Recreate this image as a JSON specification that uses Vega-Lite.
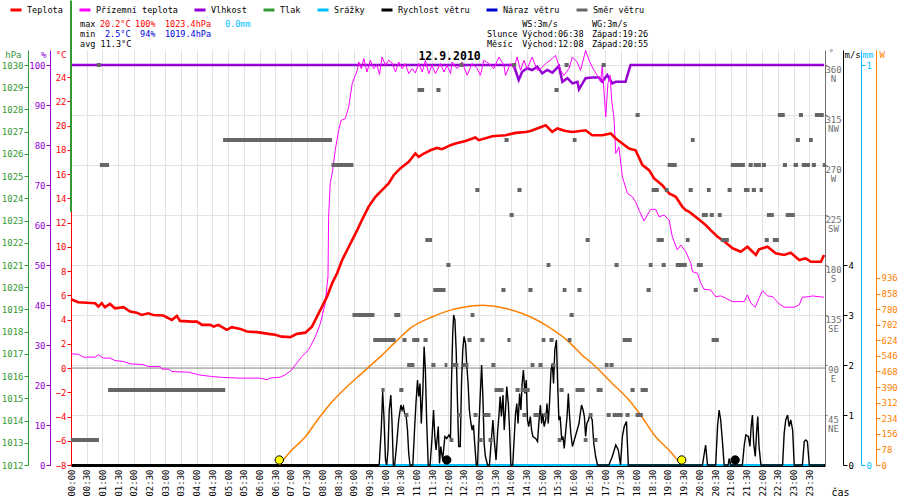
{
"$schema":"https://vega.github.io/schema/vega-lite/v6.json",
"width":754,"height":415,"autosize":"none",
"padding":{"left":71,"top":50,"right":75,"bottom":35},
"background":"white",
"config":{"view":{"stroke":null},"font":"DejaVu Sans Mono","axis":{"labelFont":"DejaVu Sans Mono","titleFont":"DejaVu Sans Mono","labelFontSize":9,"titleFontSize":9,"titleFontWeight":"normal","labelOverlap":false,"labelFlush":false}},
"datasets":{
"temp":[{"t":0,"T":5.67},{"t":0.23,"T":5.43},{"t":0.77,"T":5.35},{"t":0.87,"T":5.07},{"t":0.98,"T":5.35},{"t":1.08,"T":5.02},{"t":1.24,"T":5.29},{"t":1.4,"T":4.93},{"t":1.67,"T":5.02},{"t":1.88,"T":4.66},{"t":2.09,"T":4.57},{"t":2.25,"T":4.38},{"t":2.46,"T":4.52},{"t":2.62,"T":4.38},{"t":2.94,"T":4.33},{"t":3.21,"T":3.97},{"t":3.37,"T":4.3},{"t":3.47,"T":3.89},{"t":3.85,"T":3.83},{"t":4.01,"T":3.83},{"t":4.17,"T":3.56},{"t":4.43,"T":3.56},{"t":4.54,"T":3.42},{"t":4.69,"T":3.56},{"t":4.96,"T":3.15},{"t":5.12,"T":3.37},{"t":5.39,"T":3.23},{"t":5.6,"T":3.01},{"t":5.92,"T":2.96},{"t":6.29,"T":2.82},{"t":6.5,"T":2.74},{"t":6.71,"T":2.59},{"t":6.98,"T":2.55},{"t":7.19,"T":2.82},{"t":7.46,"T":2.92},{"t":7.67,"T":3.42},{"t":7.83,"T":4.24},{"t":7.99,"T":5.07},{"t":8.15,"T":5.89},{"t":8.31,"T":6.99},{"t":8.47,"T":7.82},{"t":8.63,"T":8.91},{"t":8.79,"T":9.74},{"t":8.95,"T":10.56},{"t":9.11,"T":11.38},{"t":9.26,"T":12.21},{"t":9.47,"T":13.3},{"t":9.69,"T":14.13},{"t":9.9,"T":14.68},{"t":10.11,"T":15.23},{"t":10.27,"T":15.91},{"t":10.48,"T":16.47},{"t":10.75,"T":17.01},{"t":10.96,"T":17.7},{"t":11.07,"T":17.42},{"t":11.23,"T":17.7},{"t":11.44,"T":17.97},{"t":11.65,"T":18.16},{"t":11.81,"T":18.06},{"t":12.08,"T":18.39},{"t":12.24,"T":18.53},{"t":12.56,"T":18.74},{"t":12.87,"T":19.02},{"t":12.98,"T":18.8},{"t":13.41,"T":19.13},{"t":13.83,"T":19.21},{"t":14.15,"T":19.4},{"t":14.47,"T":19.48},{"t":14.63,"T":19.56},{"t":15.11,"T":20.03},{"t":15.32,"T":19.48},{"t":15.48,"T":19.76},{"t":15.74,"T":19.56},{"t":15.96,"T":19.48},{"t":16.38,"T":19.62},{"t":16.59,"T":19.21},{"t":16.91,"T":19.21},{"t":17.18,"T":19.35},{"t":17.34,"T":18.94},{"t":17.55,"T":18.53},{"t":17.76,"T":18.11},{"t":17.97,"T":17.97},{"t":18.19,"T":16.74},{"t":18.4,"T":16.33},{"t":18.56,"T":15.64},{"t":18.82,"T":15.09},{"t":19.04,"T":14.41},{"t":19.25,"T":14.13},{"t":19.46,"T":13.3},{"t":19.57,"T":13.03},{"t":19.67,"T":12.9},{"t":19.94,"T":12.35},{"t":20.2,"T":11.8},{"t":20.36,"T":11.38},{"t":20.58,"T":10.83},{"t":20.74,"T":10.56},{"t":21.06,"T":9.88},{"t":21.32,"T":9.6},{"t":21.53,"T":10.01},{"t":21.8,"T":9.33},{"t":21.9,"T":9.79},{"t":22.17,"T":10.01},{"t":22.43,"T":9.46},{"t":22.7,"T":9.33},{"t":22.91,"T":9.52},{"t":23.18,"T":8.91},{"t":23.39,"T":9.05},{"t":23.55,"T":8.77},{"t":23.87,"T":8.77},{"t":23.97,"T":9.33}],
"ground":[{"t":0,"G":1.17},{"t":0.23,"G":1.14},{"t":0.39,"G":0.9},{"t":0.77,"G":0.9},{"t":0.87,"G":1.09},{"t":1.03,"G":0.82},{"t":1.24,"G":0.82},{"t":1.4,"G":0.62},{"t":1.67,"G":0.54},{"t":1.88,"G":0.35},{"t":2.3,"G":0.29},{"t":2.46,"G":0.12},{"t":2.84,"G":0.12},{"t":2.89,"G":-0.09},{"t":3.1,"G":-0.09},{"t":3.21,"G":-0.29},{"t":3.74,"G":-0.34},{"t":4.06,"G":-0.56},{"t":4.48,"G":-0.7},{"t":4.85,"G":-0.78},{"t":5.33,"G":-0.83},{"t":6.02,"G":-0.83},{"t":6.24,"G":-0.97},{"t":6.34,"G":-0.83},{"t":6.66,"G":-0.75},{"t":6.82,"G":-0.56},{"t":7.03,"G":-0.15},{"t":7.14,"G":0.26},{"t":7.35,"G":0.95},{"t":7.56,"G":1.5},{"t":7.78,"G":2.59},{"t":7.94,"G":3.7},{"t":8.09,"G":5.35},{"t":8.18,"G":7.54},{"t":8.2,"G":12.48},{"t":8.25,"G":15.23},{"t":8.33,"G":16.33},{"t":8.41,"G":17.97},{"t":8.52,"G":19.62},{"t":8.6,"G":20.44},{"t":8.73,"G":20.58},{"t":8.84,"G":21.54},{"t":8.95,"G":23.47},{"t":9.11,"G":24.56},{"t":9.16,"G":25.25},{"t":9.24,"G":24.7},{"t":9.32,"G":25.53},{"t":9.42,"G":24.42},{"t":9.53,"G":25.39},{"t":9.64,"G":24.7},{"t":9.74,"G":24.98},{"t":9.82,"G":24.23},{"t":9.9,"G":25.66},{"t":10.01,"G":24.98},{"t":10.11,"G":25.39},{"t":10.22,"G":25.17},{"t":10.33,"G":24.42},{"t":10.43,"G":25.25},{"t":10.54,"G":24.7},{"t":10.64,"G":25.12},{"t":10.75,"G":24.29},{"t":10.86,"G":24.7},{"t":10.96,"G":24.34},{"t":11.07,"G":25.12},{"t":11.18,"G":24.42},{"t":11.28,"G":25.39},{"t":11.39,"G":24.29},{"t":11.49,"G":24.98},{"t":11.6,"G":24.29},{"t":11.76,"G":25.12},{"t":11.87,"G":24.42},{"t":11.97,"G":24.98},{"t":12.08,"G":24.29},{"t":12.13,"G":25.25},{"t":12.29,"G":24.7},{"t":12.45,"G":25.25},{"t":12.61,"G":24.15},{"t":12.77,"G":25.12},{"t":12.93,"G":24.7},{"t":13.03,"G":24.15},{"t":13.14,"G":25.39},{"t":13.3,"G":25.12},{"t":13.46,"G":24.7},{"t":13.62,"G":25.66},{"t":13.78,"G":24.98},{"t":13.83,"G":24.15},{"t":13.99,"G":25.12},{"t":14.1,"G":24.7},{"t":14.2,"G":25.66},{"t":14.31,"G":24.56},{"t":14.42,"G":25.39},{"t":14.52,"G":24.7},{"t":14.68,"G":25.66},{"t":14.84,"G":24.56},{"t":14.95,"G":24.7},{"t":15.11,"G":25.12},{"t":15.32,"G":25.53},{"t":15.42,"G":25.8},{"t":15.58,"G":24.56},{"t":15.69,"G":24.15},{"t":15.85,"G":24.7},{"t":15.96,"G":25.66},{"t":16.11,"G":25.25},{"t":16.22,"G":24.56},{"t":16.38,"G":26.2},{"t":16.49,"G":25.39},{"t":16.59,"G":24.84},{"t":16.75,"G":24.15},{"t":16.86,"G":23.6},{"t":16.91,"G":24.98},{"t":17.02,"G":20.72},{"t":17.09,"G":23.47},{"t":17.16,"G":24.15},{"t":17.21,"G":22.09},{"t":17.28,"G":20.72},{"t":17.34,"G":17.7},{"t":17.44,"G":18.25},{"t":17.55,"G":15.78},{"t":17.71,"G":14.41},{"t":17.87,"G":14.13},{"t":17.97,"G":13.72},{"t":18.08,"G":13.03},{"t":18.24,"G":12.15},{"t":18.45,"G":13.09},{"t":18.61,"G":13.09},{"t":18.72,"G":12.48},{"t":18.88,"G":12.62},{"t":19.04,"G":12.21},{"t":19.14,"G":10.83},{"t":19.3,"G":9.74},{"t":19.41,"G":10.15},{"t":19.57,"G":9.6},{"t":19.73,"G":8.64},{"t":19.78,"G":7.95},{"t":19.94,"G":7.82},{"t":20.05,"G":6.99},{"t":20.15,"G":6.5},{"t":20.36,"G":6.44},{"t":20.52,"G":5.89},{"t":20.68,"G":5.95},{"t":20.84,"G":5.76},{"t":21.05,"G":5.48},{"t":21.43,"G":5.48},{"t":21.53,"G":6.03},{"t":21.64,"G":5.35},{"t":21.78,"G":5.02},{"t":21.9,"G":5.76},{"t":22.01,"G":6.38},{"t":22.17,"G":5.95},{"t":22.33,"G":5.89},{"t":22.54,"G":5.29},{"t":22.7,"G":5.02},{"t":23.02,"G":5.02},{"t":23.18,"G":5.21},{"t":23.28,"G":5.84},{"t":23.5,"G":5.89},{"t":23.6,"G":5.95},{"t":23.97,"G":5.84}],
"hum":[{"t":0,"H":100},{"t":14.09,"H":100},{"t":14.25,"H":96.25},{"t":14.36,"H":98.3},{"t":14.52,"H":99.2},{"t":14.68,"H":98.75},{"t":14.84,"H":99.6},{"t":15.0,"H":97.9},{"t":15.16,"H":98.75},{"t":15.32,"H":98.1},{"t":15.53,"H":99.75},{"t":15.64,"H":95.8},{"t":15.8,"H":96.7},{"t":15.96,"H":95.4},{"t":16.12,"H":95.8},{"t":16.17,"H":93.9},{"t":16.38,"H":96.7},{"t":16.59,"H":96.9},{"t":16.8,"H":96.9},{"t":16.91,"H":95.8},{"t":17.07,"H":97.5},{"t":17.23,"H":95.4},{"t":17.34,"H":95.8},{"t":17.65,"H":95.8},{"t":17.81,"H":100},{"t":23.97,"H":100}],
"wind":[{"t":9.81,"v":0},{"t":9.88,"v":0.77},{"t":9.92,"v":1.47},{"t":9.96,"v":0.97},{"t":10.01,"v":0.1},{"t":10.05,"v":0},{"t":10.09,"v":0.3},{"t":10.13,"v":1.1},{"t":10.18,"v":1.4},{"t":10.22,"v":0.83},{"t":10.26,"v":0},{"t":10.3,"v":0},{"t":10.35,"v":0.3},{"t":10.43,"v":0.9},{"t":10.5,"v":1.2},{"t":10.54,"v":1.1},{"t":10.58,"v":1.17},{"t":10.62,"v":1.03},{"t":10.67,"v":0.97},{"t":10.71,"v":0.7},{"t":10.75,"v":0.23},{"t":10.79,"v":0},{"t":10.88,"v":0},{"t":10.94,"v":0.77},{"t":10.98,"v":1.23},{"t":11.03,"v":1.7},{"t":11.07,"v":1.37},{"t":11.11,"v":1.63},{"t":11.15,"v":0.83},{"t":11.2,"v":1.5},{"t":11.24,"v":2.37},{"t":11.28,"v":1.9},{"t":11.32,"v":0.9},{"t":11.37,"v":0},{"t":11.43,"v":0},{"t":11.49,"v":0.53},{"t":11.54,"v":1.1},{"t":11.58,"v":0.57},{"t":11.62,"v":0.3},{"t":11.69,"v":0.77},{"t":11.73,"v":0.03},{"t":11.77,"v":0.37},{"t":11.83,"v":0.1},{"t":11.9,"v":0.57},{"t":11.96,"v":0.53},{"t":12.03,"v":0.6},{"t":12.08,"v":0.53},{"t":12.11,"v":1.63},{"t":12.15,"v":2.63},{"t":12.18,"v":3.0},{"t":12.22,"v":2.9},{"t":12.26,"v":2.3},{"t":12.3,"v":1.3},{"t":12.34,"v":0.37},{"t":12.39,"v":0.37},{"t":12.43,"v":1.63},{"t":12.47,"v":2.3},{"t":12.51,"v":2.57},{"t":12.56,"v":2.43},{"t":12.6,"v":1.97},{"t":12.64,"v":1.63},{"t":12.68,"v":1.1},{"t":12.73,"v":0.83},{"t":12.77,"v":0.7},{"t":12.81,"v":0.8},{"t":12.85,"v":0.43},{"t":12.9,"v":0},{"t":12.94,"v":0},{"t":12.98,"v":0.7},{"t":13.02,"v":1.3},{"t":13.07,"v":2.0},{"t":13.11,"v":1.37},{"t":13.15,"v":0.43},{"t":13.19,"v":0.17},{"t":13.26,"v":0},{"t":13.32,"v":0},{"t":13.38,"v":0.5},{"t":13.43,"v":0.9},{"t":13.47,"v":0.5},{"t":13.53,"v":0.1},{"t":13.58,"v":0.67},{"t":13.62,"v":0.97},{"t":13.66,"v":1.37},{"t":13.7,"v":0.97},{"t":13.75,"v":1.4},{"t":13.79,"v":0.7},{"t":13.83,"v":1.1},{"t":13.87,"v":1.57},{"t":13.92,"v":1.23},{"t":13.96,"v":0.7},{"t":14.0,"v":0},{"t":14.06,"v":0},{"t":14.11,"v":0.57},{"t":14.15,"v":1.03},{"t":14.19,"v":1.23},{"t":14.23,"v":0.83},{"t":14.28,"v":1.43},{"t":14.32,"v":1.1},{"t":14.36,"v":1.63},{"t":14.4,"v":1.9},{"t":14.45,"v":1.43},{"t":14.49,"v":1.7},{"t":14.53,"v":0.9},{"t":14.57,"v":0.77},{"t":14.62,"v":0.97},{"t":14.66,"v":0.7},{"t":14.7,"v":0.57},{"t":14.79,"v":0.53},{"t":14.85,"v":0.47},{"t":14.89,"v":0.83},{"t":14.94,"v":1.2},{"t":14.98,"v":0.83},{"t":15.02,"v":1.03},{"t":15.06,"v":0.77},{"t":15.11,"v":0.9},{"t":15.15,"v":1.23},{"t":15.19,"v":0.83},{"t":15.23,"v":1.23},{"t":15.28,"v":1.9},{"t":15.32,"v":2.03},{"t":15.36,"v":1.63},{"t":15.4,"v":2.3},{"t":15.45,"v":2.5},{"t":15.49,"v":1.63},{"t":15.53,"v":0.9},{"t":15.57,"v":0.97},{"t":15.62,"v":0.5},{"t":15.66,"v":0.57},{"t":15.7,"v":0.33},{"t":15.74,"v":0.63},{"t":15.79,"v":0.97},{"t":15.83,"v":1.43},{"t":15.87,"v":0.97},{"t":15.91,"v":0.63},{"t":15.96,"v":0.37},{"t":16.02,"v":0.5},{"t":16.08,"v":0.63},{"t":16.17,"v":0.83},{"t":16.21,"v":1.03},{"t":16.25,"v":1.2},{"t":16.3,"v":1.1},{"t":16.34,"v":0.97},{"t":16.38,"v":0.57},{"t":16.42,"v":0.83},{"t":16.47,"v":0.9},{"t":16.51,"v":1.0},{"t":16.55,"v":0.97},{"t":16.59,"v":0.9},{"t":16.64,"v":0.43},{"t":16.7,"v":0.17},{"t":16.76,"v":0},{"t":17.12,"v":0},{"t":17.23,"v":0.17},{"t":17.34,"v":0.4},{"t":17.42,"v":0.3},{"t":17.49,"v":0},{"t":17.55,"v":0.57},{"t":17.61,"v":0.77},{"t":17.68,"v":0.87},{"t":17.74,"v":0},{"t":20.1,"v":0},{"t":20.15,"v":0.2},{"t":20.2,"v":0.4},{"t":20.26,"v":0},{"t":20.52,"v":0},{"t":20.58,"v":0.77},{"t":20.63,"v":1.1},{"t":20.68,"v":0.9},{"t":20.74,"v":0.43},{"t":20.79,"v":0},{"t":20.92,"v":0},{"t":20.95,"v":0.13},{"t":21.0,"v":0},{"t":21.37,"v":0},{"t":21.43,"v":0.4},{"t":21.48,"v":0.6},{"t":21.56,"v":0.57},{"t":21.61,"v":0.37},{"t":21.65,"v":0.77},{"t":21.69,"v":1.0},{"t":21.73,"v":0.43},{"t":21.78,"v":0.17},{"t":21.82,"v":0.63},{"t":21.86,"v":0.97},{"t":21.9,"v":0.37},{"t":21.96,"v":0},{"t":22.65,"v":0},{"t":22.7,"v":0.63},{"t":22.75,"v":0.9},{"t":22.81,"v":1.0},{"t":22.86,"v":0.77},{"t":22.91,"v":0.9},{"t":22.97,"v":0.7},{"t":23.02,"v":0},{"t":23.28,"v":0},{"t":23.34,"v":0.47},{"t":23.39,"v":0.5},{"t":23.44,"v":0.47},{"t":23.5,"v":0},{"t":23.96,"v":0}],
"dir":[{"t":0,"t2":0.89,"d":22.5},{"t":0.82,"t2":0.95,"d":360},{"t":0.92,"t2":1.21,"d":270},{"t":1.18,"t2":4.91,"d":67.5},{"t":4.84,"t2":8.31,"d":292.5},{"t":8.29,"t2":8.99,"d":270},{"t":8.96,"t2":9.66,"d":135},{"t":9.62,"t2":10.33,"d":112.5},{"t":9.88,"t2":9.98,"d":67.5},{"t":10.29,"t2":10.48,"d":135},{"t":10.45,"t2":10.58,"d":67.5},{"t":10.55,"t2":10.68,"d":112.5},{"t":10.61,"t2":10.74,"d":45},{"t":10.7,"t2":10.93,"d":90},{"t":10.86,"t2":11.09,"d":112.5},{"t":11.03,"t2":11.24,"d":337.5},{"t":11.22,"t2":11.35,"d":112.5},{"t":11.28,"t2":11.49,"d":202.5},{"t":11.47,"t2":11.6,"d":90},{"t":11.53,"t2":11.92,"d":157.5},{"t":11.63,"t2":11.76,"d":337.5},{"t":11.89,"t2":11.98,"d":90},{"t":11.95,"t2":12.08,"d":180},{"t":12.05,"t2":12.17,"d":22.5},{"t":12.14,"t2":12.33,"d":90},{"t":12.3,"t2":12.43,"d":45},{"t":12.37,"t2":12.49,"d":360},{"t":12.46,"t2":12.65,"d":90},{"t":12.62,"t2":12.75,"d":112.5},{"t":12.72,"t2":12.84,"d":135},{"t":12.81,"t2":12.94,"d":45},{"t":12.87,"t2":13.0,"d":247.5},{"t":12.97,"t2":13.1,"d":22.5},{"t":13.03,"t2":13.16,"d":112.5},{"t":13.13,"t2":13.35,"d":45},{"t":13.29,"t2":13.42,"d":22.5},{"t":13.38,"t2":13.51,"d":90},{"t":13.48,"t2":13.77,"d":67.5},{"t":13.7,"t2":13.83,"d":157.5},{"t":13.8,"t2":13.93,"d":292.5},{"t":13.89,"t2":13.99,"d":112.5},{"t":13.96,"t2":14.09,"d":225},{"t":14.04,"t2":14.17,"d":360},{"t":14.15,"t2":14.28,"d":67.5},{"t":14.21,"t2":14.34,"d":247.5},{"t":14.31,"t2":14.6,"d":67.5},{"t":14.37,"t2":14.5,"d":45},{"t":14.56,"t2":14.69,"d":157.5},{"t":14.63,"t2":14.75,"d":90},{"t":14.72,"t2":14.91,"d":45},{"t":14.88,"t2":15.01,"d":90},{"t":14.98,"t2":15.1,"d":112.5},{"t":15.04,"t2":15.17,"d":45},{"t":15.14,"t2":15.26,"d":180},{"t":15.23,"t2":15.36,"d":112.5},{"t":15.3,"t2":15.42,"d":90},{"t":15.39,"t2":15.52,"d":337.5},{"t":15.49,"t2":15.61,"d":22.5},{"t":15.55,"t2":15.68,"d":67.5},{"t":15.65,"t2":15.77,"d":157.5},{"t":15.71,"t2":15.84,"d":360},{"t":15.81,"t2":15.93,"d":112.5},{"t":15.87,"t2":16.0,"d":135},{"t":15.97,"t2":16.09,"d":292.5},{"t":16.06,"t2":16.35,"d":67.5},{"t":16.12,"t2":16.25,"d":157.5},{"t":16.32,"t2":16.44,"d":22.5},{"t":16.38,"t2":16.51,"d":202.5},{"t":16.48,"t2":16.6,"d":45},{"t":16.63,"t2":16.76,"d":22.5},{"t":16.73,"t2":16.92,"d":67.5},{"t":16.89,"t2":17.02,"d":360},{"t":16.99,"t2":17.11,"d":90},{"t":17.05,"t2":17.18,"d":45},{"t":17.14,"t2":17.27,"d":90},{"t":17.24,"t2":17.56,"d":45},{"t":17.3,"t2":17.43,"d":180},{"t":17.56,"t2":17.85,"d":112.5},{"t":17.65,"t2":17.78,"d":45},{"t":17.81,"t2":17.94,"d":67.5},{"t":17.97,"t2":18.2,"d":45},{"t":17.97,"t2":18.1,"d":315},{"t":18.13,"t2":18.36,"d":67.5},{"t":18.32,"t2":18.45,"d":157.5},{"t":18.39,"t2":18.51,"d":180},{"t":18.48,"t2":18.71,"d":247.5},{"t":18.64,"t2":18.87,"d":202.5},{"t":18.8,"t2":18.93,"d":180},{"t":18.9,"t2":19.02,"d":247.5},{"t":18.99,"t2":19.28,"d":270},{"t":19.25,"t2":19.6,"d":180},{"t":19.57,"t2":19.69,"d":202.5},{"t":19.66,"t2":19.79,"d":247.5},{"t":19.73,"t2":19.85,"d":292.5},{"t":19.82,"t2":19.95,"d":157.5},{"t":19.92,"t2":20.11,"d":180},{"t":20.08,"t2":20.27,"d":225},{"t":20.24,"t2":20.36,"d":247.5},{"t":20.33,"t2":20.46,"d":225},{"t":20.39,"t2":20.62,"d":112.5},{"t":20.59,"t2":20.71,"d":225},{"t":20.68,"t2":20.94,"d":202.5},{"t":20.9,"t2":21.03,"d":247.5},{"t":21.0,"t2":21.45,"d":270},{"t":21.42,"t2":21.6,"d":247.5},{"t":21.57,"t2":21.7,"d":270},{"t":21.67,"t2":21.8,"d":247.5},{"t":21.73,"t2":21.96,"d":270},{"t":21.92,"t2":22.02,"d":247.5},{"t":21.99,"t2":22.12,"d":270},{"t":22.08,"t2":22.21,"d":202.5},{"t":22.15,"t2":22.37,"d":225},{"t":22.34,"t2":22.53,"d":202.5},{"t":22.5,"t2":22.72,"d":315},{"t":22.66,"t2":22.79,"d":270},{"t":22.75,"t2":23.04,"d":225},{"t":23.0,"t2":23.14,"d":270},{"t":23.07,"t2":23.2,"d":292.5},{"t":23.17,"t2":23.3,"d":315},{"t":23.26,"t2":23.52,"d":270},{"t":23.49,"t2":23.61,"d":292.5},{"t":23.58,"t2":23.71,"d":270},{"t":23.68,"t2":23.96,"d":315},{"t":23.93,"t2":24.0,"d":270}],
"sun":[{"t":6.63,"W":0},{"t":7.0,"W":70},{"t":7.46,"W":141},{"t":7.88,"W":233},{"t":8.31,"W":316},{"t":9.37,"W":475},{"t":9.9,"W":550},{"t":10.33,"W":616},{"t":10.86,"W":691},{"t":11.49,"W":741},{"t":12.08,"W":775},{"t":12.45,"W":788},{"t":13.09,"W":800},{"t":13.62,"W":791},{"t":14.36,"W":758},{"t":14.73,"W":733},{"t":15.11,"W":700},{"t":15.85,"W":616},{"t":16.27,"W":550},{"t":16.59,"W":508},{"t":17.23,"W":408},{"t":17.76,"W":325},{"t":18.13,"W":250},{"t":18.61,"W":141},{"t":19.03,"W":75},{"t":19.43,"W":0}],
"header":[{"t":0.29,"r":1,"s":"max","c":"#000000"},{"t":0.92,"r":1,"s":"20.2°C","c":"#ff0000"},{"t":2.04,"r":1,"s":"100%","c":"#ff0000"},{"t":2.99,"r":1,"s":"1023.4hPa","c":"#ff0000"},{"t":4.9,"r":1,"s":"0.0mm","c":"#00bfff"},{"t":14.36,"r":1,"s":"WS:3m/s","c":"#000000"},{"t":16.58,"r":1,"s":"WG:3m/s","c":"#000000"},{"t":0.29,"r":2,"s":"min","c":"#000000"},{"t":1.08,"r":2,"s":"2.5°C","c":"#0000dd"},{"t":2.2,"r":2,"s":"94%","c":"#0000dd"},{"t":2.99,"r":2,"s":"1019.4hPa","c":"#0000dd"},{"t":13.24,"r":2,"s":"Slunce","c":"#000000"},{"t":14.36,"r":2,"s":"Východ:06:38","c":"#000000"},{"t":16.58,"r":2,"s":"Západ:19:26","c":"#000000"},{"t":0.29,"r":3,"s":"avg 11.3°C","c":"#000000"},{"t":13.24,"r":3,"s":"Měsíc","c":"#000000"},{"t":14.36,"r":3,"s":"Východ:12:08","c":"#000000"},{"t":16.58,"r":3,"s":"Západ:20:55","c":"#000000"}]
},
"encoding":{"x":{"field":"t","type":"quantitative","scale":{"domain":[0,24],"nice":false,"zero":false},
 "axis":{"values":[0,0.5,1,1.5,2,2.5,3,3.5,4,4.5,5,5.5,6,6.5,7,7.5,8,8.5,9,9.5,10,10.5,11,11.5,12,12.5,13,13.5,14,14.5,15,15.5,16,16.5,17,17.5,18,18.5,19,19.5,20,20.5,21,21.5,22,22.5,23,23.5],
 "labelExpr":"(datum.value < 10 ? '0' : '') + floor(datum.value) + ':' + (datum.value % 1 ? '30' : '00')",
 "labelAngle":-90,"labelAlign":"right","labelBaseline":"middle","labelPadding":4,"ticks":false,"grid":true,"gridColor":"#e2e2e2","domainColor":"#000000","domainWidth":3,"labelColor":"#000000",
 "title":"čas","titleX":769,"titleY":27,"titleAngle":0,"titleAlign":"center","titleBaseline":"middle","titleFontSize":10,"titleColor":"#000000"}}},
"layer":[
{"data":{"values":[{"t":0,"t2":24}]},"mark":{"type":"rule","color":"#808080","strokeWidth":1},
 "encoding":{"x2":{"field":"t2"},"y":{"datum":0,"type":"quantitative","scale":{"domain":[-8,26.24],"nice":false,"zero":false},"axis":null}}},
{"data":{"name":"sun"},"mark":{"type":"line","color":"#ff8000","strokeWidth":1.5,"interpolate":"monotone"},
 "encoding":{"y":{"field":"W","type":"quantitative","scale":{"domain":[0,2077],"nice":false,"zero":false},
  "axis":{"orient":"right","offset":51,"values":[0,78,156,234,312,390,468,546,624,702,780,858,936],"format":"d","domainColor":"#ff8000","tickColor":"#ff8000","labelColor":"#ff8000","tickSize":4,"labelPadding":1,"grid":false,"title":"W","titleColor":"#ff8000","titleAngle":0,"titleX":3,"titleY":4,"titleAlign":"left","titleBaseline":"middle"}}}},
{"data":{"values":[{"t":9.81,"R":0},{"t":23.96,"R":0}]},"mark":{"type":"line","strokeWidth":2},
 "encoding":{"y":{"field":"R","type":"quantitative","scale":{"domain":[0,1.0375],"nice":false,"zero":false},
  "axis":{"orient":"right","offset":36,"values":[0,1],"format":"d","domainColor":"#00bfff","tickColor":"#00bfff","labelColor":"#00bfff","tickSize":4,"labelPadding":1,"grid":false,"title":"mm","titleColor":"#00bfff","titleAngle":0,"titleX":1,"titleY":4,"titleAlign":"left","titleBaseline":"middle"}},
  "color":{"datum":"Srážky"}}},
{"data":{"name":"wind"},"mark":{"type":"line","strokeWidth":1.4},
 "encoding":{"y":{"field":"v","type":"quantitative","scale":{"domain":[0,8.3],"nice":false,"zero":false},
  "axis":{"orient":"right","offset":18,"values":[0,1,2,3,4],"format":"d","domainColor":"#000000","tickColor":"#000000","labelColor":"#000000","tickSize":4,"labelPadding":1,"grid":false,"title":"m/s","titleColor":"#000000","titleAngle":0,"titleX":1,"titleY":4,"titleAlign":"left","titleBaseline":"middle"}},
  "color":{"datum":"Rychlost větru"}}},
{"data":{"name":"hum"},"mark":{"type":"line","strokeWidth":2.5},
 "encoding":{"y":{"field":"H","type":"quantitative","scale":{"domain":[0,103.75],"nice":false,"zero":false},
  "axis":{"orient":"left","offset":21,"values":[0,10,20,30,40,50,60,70,80,90,100],"format":"d","domainColor":"#9400d3","tickColor":"#9400d3","labelColor":"#9400d3","tickSize":4,"labelPadding":1,"grid":false,"title":"%","titleColor":"#9400d3","titleAngle":0,"titleX":-4,"titleY":4,"titleAlign":"right","titleBaseline":"middle"}},
  "color":{"datum":"Vlhkost"}}},
{"data":{"name":"ground"},"mark":{"type":"line","strokeWidth":1},
 "encoding":{"y":{"field":"G","type":"quantitative","scale":{"domain":[-8,26.24],"nice":false,"zero":false},"axis":null},
  "color":{"datum":"Přízemní teplota"}}},
{"data":{"name":"temp"},"mark":{"type":"line","strokeWidth":2.6},
 "encoding":{"y":{"field":"T","type":"quantitative","scale":{"domain":[-8,26.24],"nice":false,"zero":false},
  "axis":{"orient":"left","offset":0,"values":[-8,-6,-4,-2,0,2,4,6,8,10,12,14,16,18,20,22,24],"format":"d","domainColor":"#ff0000","tickColor":"#ff0000","labelColor":"#ff0000","tickSize":4,"labelPadding":1,"grid":false,"title":"°C","titleColor":"#ff0000","titleAngle":0,"titleX":-5,"titleY":4,"titleAlign":"right","titleBaseline":"middle"}},
  "color":{"datum":"Teplota","type":"nominal","scale":{"domain":["Teplota","Přízemní teplota","Vlhkost","Tlak","Srážky","Rychlost větru","Náraz větru","Směr větru"],"range":["#ff0000","#ff00ff","#9400d3","#339933","#00bfff","#000000","#0000cc","#666666"]},
   "legend":{"orient":"none","legendX":-62,"legendY":-47,"direction":"horizontal","title":null,"symbolType":"stroke","symbolStrokeWidth":3,"symbolSize":121,"labelFont":"DejaVu Sans Mono","labelFontSize":8.5,"labelColor":"#000000","columnPadding":10,"labelOffset":4}}}},
{"data":{"values":[{"t":0,"p":1023.4,"p2":1032.9}]},"mark":{"type":"rule","strokeWidth":2},
 "encoding":{"y":{"field":"p","type":"quantitative","scale":{"domain":[1012,1030.675],"nice":false,"zero":false},
  "axis":{"orient":"left","offset":43,"values":[1012,1013,1014,1015,1016,1017,1018,1019,1020,1021,1022,1023,1024,1025,1026,1027,1028,1029,1030],"format":"d","domainColor":"#339933","tickColor":"#339933","labelColor":"#339933","tickSize":4,"labelPadding":1,"grid":false,"title":"hPa","titleColor":"#339933","titleAngle":0,"titleX":-7,"titleY":4,"titleAlign":"right","titleBaseline":"middle"}},
  "y2":{"field":"p2"},"color":{"datum":"Tlak"}}},
{"data":{"name":"dir"},"mark":{"type":"rule","strokeWidth":4,"strokeCap":"butt"},
 "encoding":{"x2":{"field":"t2"},"y":{"field":"d","type":"quantitative","scale":{"domain":[0,373.5],"nice":false,"zero":false},
  "axis":{"orient":"right","offset":0,"values":[45,90,135,180,225,270,315,360],"labelExpr":"[datum.label, datum.value==360?'N':datum.value==315?'NW':datum.value==270?'W':datum.value==225?'SW':datum.value==180?'S':datum.value==135?'SE':datum.value==90?'E':'NE']","labelAlign":"center","labelPadding":6,"labelLineHeight":9,"labelOffset":4.5,"domainColor":"#707070","tickColor":"#707070","labelColor":"#707070","tickSize":2,"grid":true,"gridColor":"#e2e2e2","title":"°","titleColor":"#707070","titleAngle":0,"titleX":3,"titleY":2,"titleAlign":"left","titleBaseline":"middle"}},
  "color":{"datum":"Směr větru"}}},
{"data":{"values":[{"t":6.63,"v":0.1},{"t":19.44,"v":0.1}]},"mark":{"type":"point","shape":"circle","filled":true,"fill":"#ffff00","stroke":"#000000","strokeWidth":1,"size":70,"opacity":1},
 "encoding":{"y":{"field":"v","type":"quantitative","scale":{"domain":[0,8.3],"nice":false,"zero":false},"axis":null}}},
{"data":{"values":[{"t":11.96,"v":0.1},{"t":21.14,"v":0.1}]},"mark":{"type":"point","shape":"circle","filled":true,"fill":"#000000","stroke":"#000000","strokeWidth":1,"size":70,"opacity":1},
 "encoding":{"y":{"field":"v","type":"quantitative","scale":{"domain":[0,8.3],"nice":false,"zero":false},"axis":null}}},
{"data":{"name":"header"},"mark":{"type":"text","align":"left","baseline":"middle","font":"DejaVu Sans Mono","fontSize":8.5},
 "encoding":{"y":{"field":"r","type":"quantitative","scale":{"domain":[3.6,45.1],"reverse":true,"nice":false,"zero":false},"axis":null},
  "text":{"field":"s"},"fill":{"field":"c","type":"nominal","scale":null}}},
{"data":{"values":[{"t":12.05,"r":4.3,"s":"12.9.2010"}]},"mark":{"type":"text","align":"center","baseline":"middle","font":"DejaVu Sans Mono","fontSize":11.5,"fontWeight":"bold","color":"#000000"},
 "encoding":{"y":{"field":"r","type":"quantitative","scale":{"domain":[3.6,45.1],"reverse":true,"nice":false,"zero":false},"axis":null},
  "text":{"field":"s"}}}
],
"resolve":{"scale":{"y":"independent"},"axis":{"y":"independent"}}
}
